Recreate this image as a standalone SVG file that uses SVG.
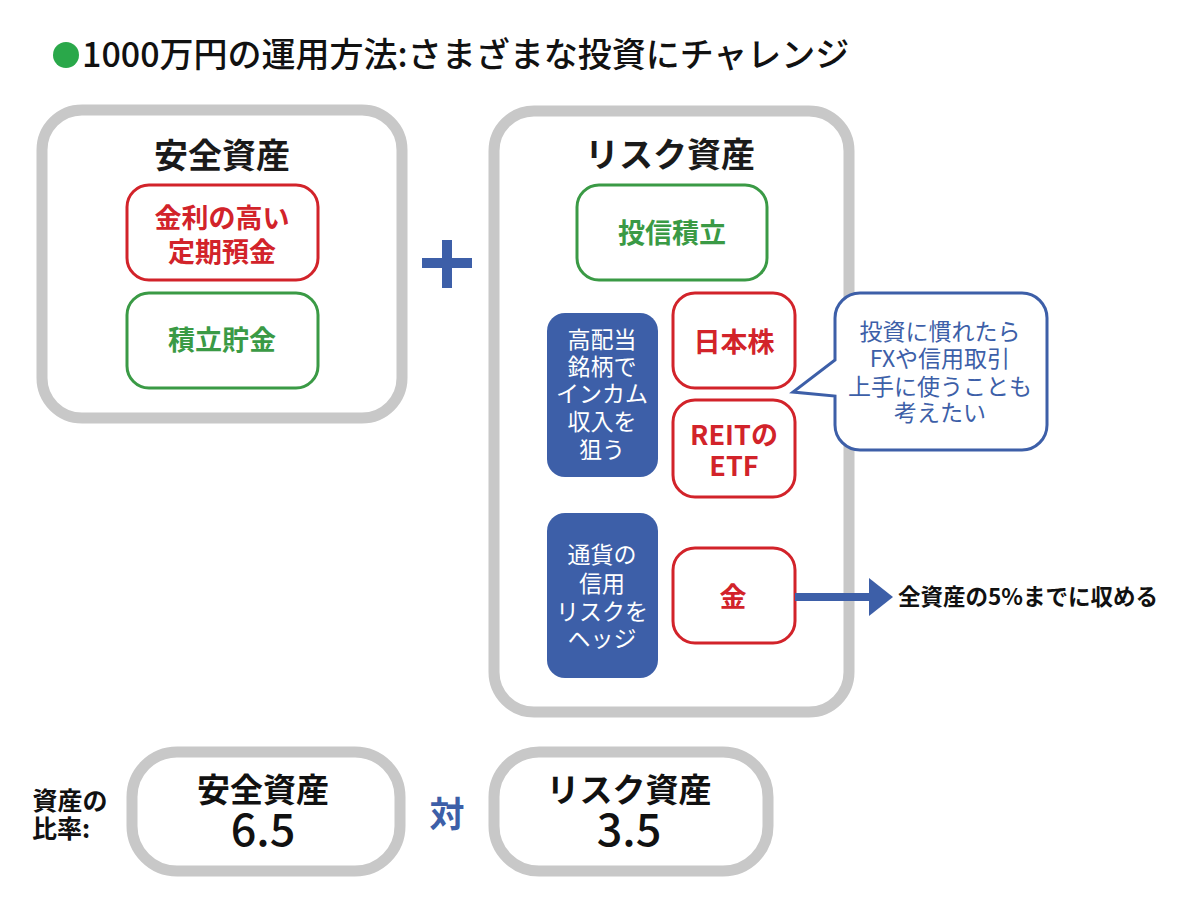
<svg xmlns="http://www.w3.org/2000/svg" width="1200" height="911" viewBox="0 0 1200 911">
<style>
text{font-family:"Noto Sans CJK JP","Noto Sans",sans-serif;text-anchor:middle}
.big{fill:#fff;stroke:#c8c8c8;stroke-width:11}
.red{fill:#fff;stroke:#d2232a;stroke-width:3}
.grn{fill:#fff;stroke:#3a9a45;stroke-width:3}
.blu{fill:#3d5fa8}
.head{font-size:34px;font-weight:bold;fill:#1a1a1a}
.rt{font-size:27px;font-weight:bold;fill:#d2232a}
.gt{font-size:27px;font-weight:bold;fill:#3a9a45}
.wt{font-size:23px;fill:#fff}
.ct{font-size:23px;fill:#3d5fa8}
.num{font-size:45px;font-weight:500;fill:#111}
</style>
<rect width="1200" height="911" fill="#fff"/>

<g id="title">
<circle cx="66" cy="55" r="13" fill="#2aa84a"/>
<text x="82" y="67" style="text-anchor:start;font-size:34px;font-weight:500;fill:#111">1000万円の運用方法:さまざまな投資にチャレンジ</text>
</g>

<g id="safe-assets">
<rect class="big" x="42" y="110" width="360" height="308" rx="40"/>
<text class="head" x="222" y="168">安全資産</text>
</g>
<g id="teiki">
<rect class="red" x="127" y="185" width="191" height="95" rx="22"/>
<text class="rt" x="222" y="228">金利の高い</text>
<text class="rt" x="222" y="262">定期預金</text>
</g>
<g id="tsumitate-chokin">
<rect class="grn" x="127" y="293" width="191" height="95" rx="22"/>
<text class="gt" x="222" y="350">積立貯金</text>
</g>

<g id="plus">
<rect x="422" y="258" width="50" height="10" fill="#3d5fa8"/>
<rect x="442" y="240" width="10" height="48" fill="#3d5fa8"/>
</g>

<g id="risk-assets">
<rect class="big" x="494" y="111" width="355" height="601" rx="40"/>
<text class="head" x="670" y="167">リスク資産</text>
</g>
<g id="toushin">
<rect class="grn" x="577" y="185" width="190" height="95" rx="22"/>
<text class="gt" x="672" y="243">投信積立</text>
</g>
<g id="income">
<rect class="blu" x="547" y="313" width="111" height="164" rx="18"/>
<text class="wt" x="602" y="348">高配当</text>
<text class="wt" x="602" y="375">銘柄で</text>
<text class="wt" x="602" y="402">インカム</text>
<text class="wt" x="602" y="430">収入を</text>
<text class="wt" x="602" y="458">狙う</text>
</g>
<g id="nihonkabu">
<rect class="red" x="673" y="293" width="122" height="95" rx="22"/>
<text class="rt" x="734" y="352">日本株</text>
</g>
<g id="reit">
<rect class="red" x="673" y="400" width="122" height="97" rx="22"/>
<text class="rt" x="734" y="445">REITの</text>
<text class="rt" x="734" y="476">ETF</text>
</g>
<g id="callout">
<path d="M860,293 H1022 A25,25 0 0 1 1047,318 V425 A25,25 0 0 1 1022,450 H860 A25,25 0 0 1 835,425 V396 L793,392 L835,360 V318 A25,25 0 0 1 860,293 Z" fill="#fff" stroke="#3d5fa8" stroke-width="3"/>
<text class="ct" x="940" y="340">投資に慣れたら</text>
<text class="ct" x="940" y="367">FXや信用取引</text>
<text class="ct" x="940" y="395">上手に使うことも</text>
<text class="ct" x="940" y="421">考えたい</text>
</g>
<g id="hedge">
<rect class="blu" x="547" y="513" width="111" height="165" rx="18"/>
<text class="wt" x="602" y="563">通貨の</text>
<text class="wt" x="602" y="592">信用</text>
<text class="wt" x="602" y="620">リスクを</text>
<text class="wt" x="602" y="647">ヘッジ</text>
</g>
<g id="kin">
<rect class="red" x="673" y="548" width="122" height="95" rx="22"/>
<text class="rt" x="733" y="607">金</text>
</g>
<g id="note">
<text x="898" y="605" style="text-anchor:start;font-size:22.5px;font-weight:bold;fill:#111">全資産の5%までに収める</text>
</g>

<g id="connectors">
<line x1="795" y1="597" x2="871" y2="597" stroke="#3d5fa8" stroke-width="8"/>
<polygon points="869,578 893,597 869,616" fill="#3d5fa8"/>
</g>

<g id="ratio-label">
<text x="70" y="810" style="font-size:25px;font-weight:bold;fill:#111">資産の</text>
<text x="32" y="838" style="text-anchor:start;font-size:25px;font-weight:bold;fill:#111">比率:</text>
</g>
<g id="safe-ratio">
<rect class="big" x="132" y="752" width="268" height="119" rx="45"/>
<text x="263" y="802" style="font-size:33px;font-weight:bold;fill:#111">安全資産</text>
<text class="num" x="263" y="846">6.5</text>
</g>
<g id="tai">
<text x="447" y="827" style="font-size:35px;font-weight:bold;fill:#3d5fa8">対</text>
</g>
<g id="risk-ratio">
<rect class="big" x="494" y="752" width="274" height="119" rx="45"/>
<text x="629" y="802" style="font-size:33px;font-weight:bold;fill:#111">リスク資産</text>
<text class="num" x="629" y="846">3.5</text>
</g>
</svg>
